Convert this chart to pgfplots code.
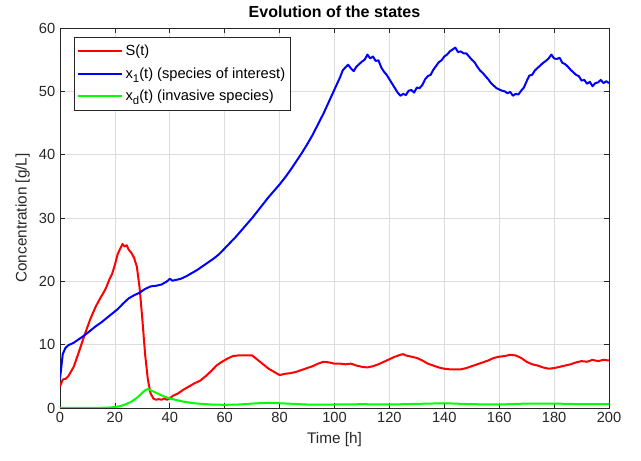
\documentclass[border=0pt]{standalone}
\usepackage{fontspec}
\setmainfont{Liberation Sans}
\usepackage{pgfplots}
\pgfplotsset{compat=1.18}
\definecolor{axgray}{gray}{0.15}
\definecolor{gridgray}{gray}{0.87}
\newcommand{\sub}[1]{\raisebox{-0.55ex}{\fontsize{8.5}{9}\selectfont #1}}
\begin{document}
\begin{tikzpicture}
\begin{axis}[
  scale only axis,
  width=411.75pt, height=285pt,
  xmin=0, xmax=200, ymin=0, ymax=60,
  xtick={0,20,...,200}, ytick={0,10,...,60},
  grid=major,
  major grid style={gridgray, line width=0.5pt},
  axis line style={axgray, line width=0.6pt},
  tick style={axgray, line width=0.6pt},
  tick align=inside,
  major tick length=4pt,
  xtick pos=both, ytick pos=both,
  tick label style={font=\fontsize{11}{13}\selectfont, text=axgray},
  /pgf/number format/assume math mode=true,
  xlabel={Time [h]}, ylabel={Concentration [g/L]},
  label style={font=\fontsize{11.5}{13}\selectfont, text=axgray},
  title={\textbf{Evolution of the states}},
  title style={font=\fontsize{12}{14}\selectfont, yshift=-2pt},
  legend style={at={(0.0255,0.976)}, anchor=north west, draw=axgray, line width=0.5pt,
    font=\fontsize{11}{13}\selectfont, fill=white, inner xsep=2pt, inner ysep=3.5pt, row sep=3.5pt},
  legend cell align=left,
  legend image code/.code={\draw[#1, line width=1.5pt] (0pt,0pt) -- (33pt,0pt);},
  every axis plot/.append style={line width=1.5pt, line join=round},
]
\addplot[red] coordinates {
(0,3.4)(1,4.5)(2,4.6)(3,5.0)(5,6.5)(7,9.0)(9,11.6)(11,14.0)(13,16.0)(15,17.6)(16,18.3)(17,19.2)(18,20.3)(19,21.2)(20,22.6)(21,24.3)(22,25.2)(22.8,25.9)(23.5,25.5)(24.3,25.7)(25,25.0)(26,24.5)(27,23.7)(28,22.3)(29,19.0)(30,14.0)(31,8.5)(32,4.5)(33,2.3)(34,1.5)(35,1.3)(36,1.4)(37,1.3)(38,1.5)(39,1.3)(40,1.5)(41,1.9)(43,2.3)(45,2.9)(47,3.4)(49,3.9)(51,4.3)(53,5.0)(55,5.8)(57,6.7)(59,7.3)(61,7.8)(63,8.2)(65,8.3)(67,8.3)(69,8.3)(70,8.3)(72,7.6)(74,6.9)(76,6.2)(78,5.7)(80,5.2)(82,5.4)(84,5.5)(86,5.7)(88,6.0)(90,6.3)(92,6.6)(94,7.0)(96,7.3)(98,7.2)(100,7.0)(102,7.0)(104,6.9)(106,7.0)(108,6.7)(110,6.5)(112,6.4)(114,6.6)(116,6.9)(118,7.3)(120,7.7)(122,8.1)(124,8.4)(125,8.5)(126,8.3)(128,8.1)(130,7.9)(132,7.5)(134,7.0)(136,6.7)(138,6.4)(140,6.2)(142,6.1)(144,6.1)(146,6.1)(148,6.3)(150,6.6)(152,6.9)(154,7.2)(156,7.5)(158,7.9)(160,8.1)(162,8.2)(164,8.4)(166,8.3)(168,7.9)(170,7.3)(172,6.9)(174,6.7)(176,6.4)(178,6.2)(180,6.3)(182,6.5)(184,6.7)(186,6.9)(188,7.2)(190,7.4)(192,7.3)(194,7.6)(196,7.4)(198,7.6)(200,7.5)
};
\addlegendentry{S(t)}
\addplot[blue] coordinates {
(0,4.7)(0.5,6.5)(1,8.5)(2,9.5)(3,9.9)(5,10.3)(7,10.9)(9,11.5)(11,12.2)(13,12.9)(15,13.5)(17,14.2)(19,14.9)(21,15.6)(23,16.5)(25,17.3)(27,17.8)(29,18.2)(31,18.8)(33,19.2)(35,19.3)(37,19.5)(39,20.0)(40,20.4)(41,20.1)(42,20.2)(44,20.4)(46,20.8)(48,21.3)(50,21.8)(52,22.4)(54,23.0)(56,23.6)(58,24.3)(60,25.2)(62,26.1)(64,27.0)(66,28.0)(68,29.0)(70,30.0)(72,31.1)(74,32.2)(76,33.3)(78,34.3)(80,35.3)(82,36.4)(84,37.6)(86,38.9)(88,40.2)(90,41.6)(92,43.1)(94,44.8)(96,46.5)(98,48.4)(100,50.3)(102,52.2)(103,53.3)(104,53.8)(105,54.2)(106,53.6)(107,53.2)(108,53.9)(110,54.7)(111,55.0)(112,55.8)(113,55.2)(114,55.5)(115,54.8)(116,54.9)(117,53.8)(118,53.1)(119,52.6)(120,51.9)(121,51.2)(122,50.5)(123,49.8)(124,49.3)(125,49.6)(126,49.4)(127,50.1)(128,50.2)(129,49.8)(130,50.6)(131,50.5)(132,51.0)(133,51.9)(134,52.4)(135,52.6)(136,53.4)(137,54.0)(138,54.6)(139,54.9)(140,55.5)(141,55.8)(142,56.3)(143,56.6)(144,56.9)(145,56.2)(146,56.3)(147,56.0)(148,56.0)(149,55.5)(150,55.0)(151,54.6)(152,53.9)(153,53.3)(154,52.9)(155,52.4)(156,51.9)(157,51.3)(158,50.9)(159,50.5)(160,50.3)(161,50.1)(162,50.0)(163,49.7)(164,49.9)(165,49.3)(166,49.6)(167,49.5)(168,50.1)(169,50.6)(170,51.6)(171,52.5)(172,52.6)(173,53.3)(174,53.7)(175,54.1)(176,54.5)(177,54.8)(178,55.2)(179,55.8)(180,55.2)(181,55.1)(182,55.3)(183,54.5)(184,54.3)(185,53.9)(186,53.4)(187,53.0)(188,52.6)(189,52.4)(190,51.7)(191,51.8)(192,51.2)(193,51.5)(194,50.8)(195,51.3)(196,51.4)(197,51.8)(198,51.3)(199,51.6)(200,51.3)
};
\addlegendentry{x\sub{1}(t) (species of interest)}
\addplot[color={rgb,1:red,0;green,1;blue,0}] coordinates {
(0,0)(10,0.01)(15,0.03)(18,0.08)(20,0.15)(22,0.3)(24,0.6)(26,1.0)(28,1.6)(30,2.4)(31,2.8)(32,3.0)(33,2.8)(34,2.6)(36,2.2)(38,1.8)(40,1.5)(42,1.3)(45,1.0)(48,0.8)(50,0.7)(55,0.55)(60,0.5)(65,0.55)(70,0.7)(75,0.8)(80,0.75)(85,0.65)(90,0.55)(100,0.55)(110,0.6)(120,0.55)(130,0.65)(140,0.75)(150,0.6)(160,0.55)(170,0.7)(180,0.7)(190,0.6)(200,0.6)
};
\addlegendentry{x\sub{d}(t) (invasive species)}
\end{axis}
\pgfresetboundingbox
\path ([shift={(-45pt,-39.75pt)}]current axis.south west) rectangle ([shift={(24pt,21pt)}]current axis.north east);
\end{tikzpicture}
\end{document}
